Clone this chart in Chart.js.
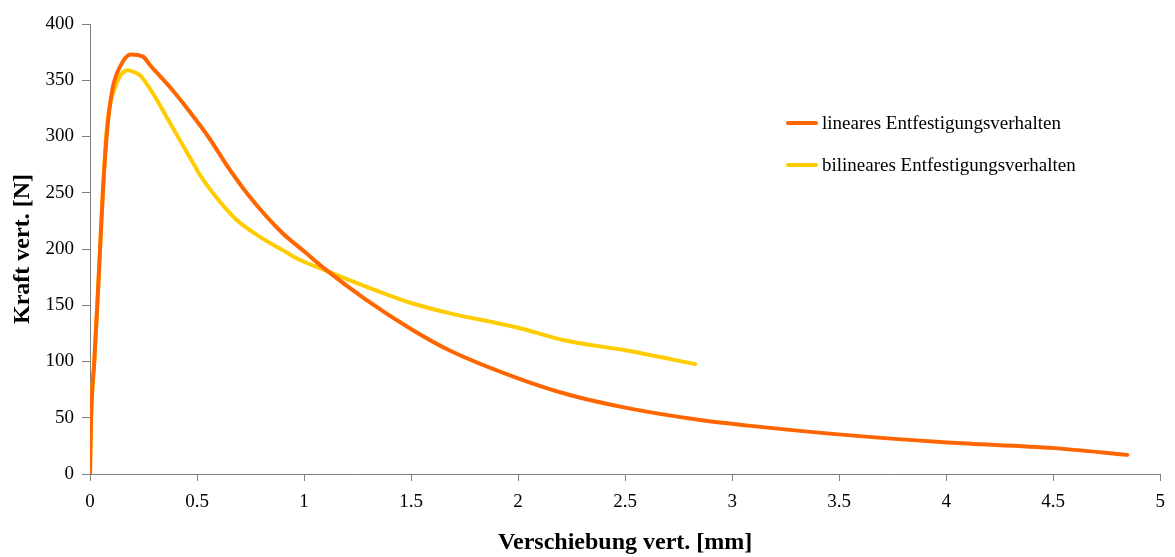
<!DOCTYPE html>
<html>
<head>
<meta charset="utf-8">
<script src="https://cdn.jsdelivr.net/npm/chart.js@4/dist/chart.umd.min.js"></script>
<style>
html,body{margin:0;padding:0;background:#fff;}
#wrap{width:1175px;height:557px;}
</style>
</head>
<body>
<div id="wrap"><canvas id="c" width="1175" height="557"></canvas></div>
<script>
const seriesNames = ["lineares Entfestigungsverhalten", "bilineares Entfestigungsverhalten"];

const linX = [0, 0.005, 0.02, 0.034, 0.047, 0.06, 0.08, 0.105, 0.14, 0.19, 0.248, 0.28, 0.373, 0.466, 0.559, 0.644, 0.746, 0.9, 1.0, 1.103, 1.289, 1.507, 1.678, 2.0, 2.237, 2.5, 2.843, 3.076, 3.51, 4.007, 4.505, 4.846];
const linY = [0, 50, 100, 150, 200, 250, 305, 342, 362, 373, 371, 363.5, 344, 322, 298, 273, 246.5, 214, 198, 181.4, 155, 128, 110, 85, 70.4, 59, 48.2, 43, 35, 28, 23, 17];

const bilX = [0, 0.005, 0.02, 0.034, 0.047, 0.06, 0.078, 0.124, 0.178, 0.22, 0.233, 0.295, 0.357, 0.419, 0.489, 0.513, 0.59, 0.684, 0.792, 0.9, 0.979, 1.1, 1.289, 1.5, 1.678, 2.0, 2.22, 2.5, 2.827];
const bilY = [0, 50, 100, 150, 200, 250, 306, 347, 359, 356, 354.6, 338, 317.6, 297, 274, 266, 246, 226, 211, 199, 190.4, 181, 166.6, 152, 143, 130, 118.7, 110, 97.7];

const xTicks = [0, 0.5, 1, 1.5, 2, 2.5, 3, 3.5, 4, 4.5, 5];
const yTicks = [0, 50, 100, 150, 200, 250, 300, 350, 400];

const colors = ["#FF6600", "#FFCC00"];
const toPts = (xs, ys) => xs.map((x, i) => ({x: x, y: ys[i]}));

const legendPlugin = {
  id: 'customLegend',
  afterDraw(chart) {
    const ctx = chart.ctx;
    ctx.save();
    const ys = [123, 165];
    chart.data.datasets.forEach((ds, i) => {
      ctx.strokeStyle = ds.borderColor;
      ctx.lineWidth = 4;
      ctx.lineCap = 'round';
      ctx.beginPath();
      ctx.moveTo(788, ys[i]);
      ctx.lineTo(816, ys[i]);
      ctx.stroke();
      ctx.fillStyle = '#000';
      ctx.font = '19px "Liberation Serif"';
      ctx.textBaseline = 'middle';
      ctx.textAlign = 'left';
      ctx.fillText(ds.label, 822, ys[i] + 1);
    });
    ctx.restore();
  }
};

new Chart(document.getElementById('c'), {
  type: 'scatter',
  data: {
    datasets: [
      {label: seriesNames[0], data: toPts(linX, linY), showLine: true, borderColor: colors[0], backgroundColor: colors[0], borderWidth: 4, pointRadius: 0, cubicInterpolationMode: 'monotone', borderCapStyle: 'round'},
      {label: seriesNames[1], data: toPts(bilX, bilY), showLine: true, borderColor: colors[1], backgroundColor: colors[1], borderWidth: 4, pointRadius: 0, cubicInterpolationMode: 'monotone', borderCapStyle: 'round'}
    ]
  },
  options: {
    responsive: false,
    animation: false,
    devicePixelRatio: 1,
    layout: {padding: {top: 24, right: 0, left: 0, bottom: 0}},
    plugins: {legend: {display: false}, tooltip: {enabled: false}},
    scales: {
      x: {
        type: 'linear', min: 0, max: 5,
        afterBuildTicks: (s) => { s.ticks = xTicks.map(v => ({value: v})); },
        afterFit: (s) => { s.height = 83; },
        border: {color: '#808080', width: 1},
        grid: {drawOnChartArea: false, color: '#808080', tickLength: 7},
        ticks: {color: '#000', font: {family: 'Liberation Serif', size: 19}, padding: 10, maxRotation: 0, callback: (v) => String(v)},
        title: {display: true, text: 'Verschiebung vert. [mm]', color: '#000', font: {family: 'Liberation Serif', size: 24, weight: 'bold'}, padding: {top: 0, bottom: 0}}
      },
      y: {
        type: 'linear', min: 0, max: 400,
        afterBuildTicks: (s) => { s.ticks = yTicks.map(v => ({value: v})); },
        afterFit: (s) => { s.width = 90; },
        border: {color: '#808080', width: 1},
        grid: {drawOnChartArea: false, color: '#808080', tickLength: 8},
        ticks: {color: '#000', font: {family: 'Liberation Serif', size: 19}, padding: 8, callback: (v) => String(v)},
        title: {display: true, text: 'Kraft vert. [N]', color: '#000', font: {family: 'Liberation Serif', size: 24, weight: 'bold'}, padding: {top: 8, bottom: 0}}
      }
    }
  },
  plugins: [legendPlugin]
});
</script>
</body>
</html>
